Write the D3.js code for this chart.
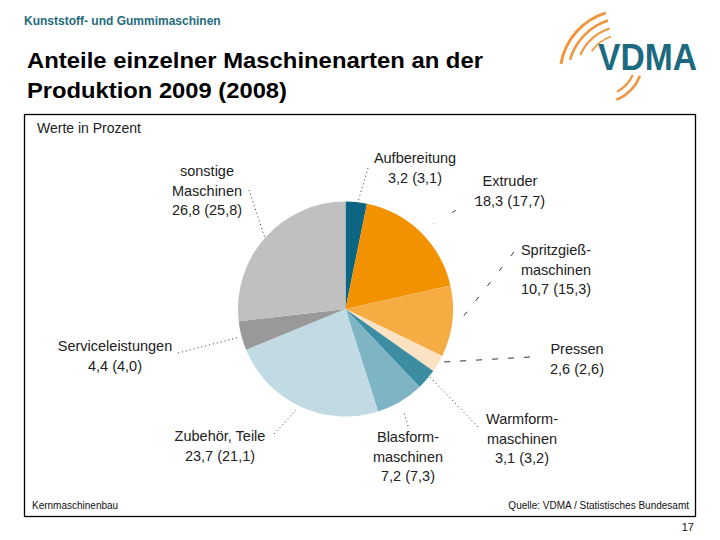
<!DOCTYPE html>
<html><head><meta charset="utf-8">
<script src="https://cdn.jsdelivr.net/npm/d3@7"></script>
<style>body{margin:0;background:#fff}svg{display:block}text{font-family:"Liberation Sans",Arial,sans-serif}</style>
</head><body><svg id="c" width="720" height="540"></svg>
<script>
const categories = ["Aufbereitung","Extruder","Spritzgieß-maschinen","Pressen","Warmform-maschinen","Blasform-maschinen","Zubehör, Teile","Serviceleistungen","sonstige Maschinen"];
const values2009 = [3.2,18.3,10.7,2.6,3.1,7.2,23.7,4.4,26.8];
const values2008 = [3.1,17.7,15.3,2.6,3.2,7.3,21.1,4.0,25.8];
const labelLines = [["Aufbereitung"],["Extruder"],["Spritzgieß-","maschinen"],["Pressen"],["Warmform-","maschinen"],["Blasform-","maschinen"],["Zubehör, Teile"],["Serviceleistungen"],["sonstige","Maschinen"]];
const colors = ["#0c6582","#f29200","#f5ac42","#fae2c2","#3c8da2","#7eb4c4","#c1dae3","#999999","#c0c0c0"];

// layout (positions only)
const labelPos = [[415,163],[510,186],[556,255],[577,354],[522,424],[408,442],[220,441],[115,351],[207,176]];
const leaders = [
 [[368,168],[358,202],"1,3"],
 [[478,197],[433,224],"4,22"],
 [[514,252],[459,322],"5,14"],
 [[530,357],[444,362],"6,10"],
 [[478,427],[430,377],"1,3"],
 [[408,426],[404,412],"1,3"],
 [[274,434],[296,410],"1,3"],
 [[178,353],[240,337],"1,3"],
 [[249,190],[265,238],"1,3"]
];

const svg = d3.select("#c");
const fmt = v => d3.format(".1f")(v).replace(".", ",");

// header
svg.append("text").attr("x",24).attr("y",25).attr("fill","#1f6b7c").attr("font-size",12).attr("font-weight","bold").text("Kunststoff- und Gummimaschinen");
svg.append("text").attr("x",27).attr("y",68).attr("font-size",22).attr("font-weight","bold").attr("fill","#000")
  .attr("textLength",456).attr("lengthAdjust","spacingAndGlyphs").text("Anteile einzelner Maschinenarten an der");
svg.append("text").attr("x",27).attr("y",98).attr("font-size",22).attr("font-weight","bold").attr("fill","#000")
  .attr("textLength",260).attr("lengthAdjust","spacingAndGlyphs").text("Produktion 2009 (2008)");

// logo
const logo = svg.append("g");
const arcG = d3.arc();
[[65,-1.40,-0.30,3],[57,-1.30,-0.30,2.6],[49,-1.15,-0.32,2.2],[41,-0.95,-0.35,1.8]].forEach(a=>{
  logo.append("path").attr("transform","translate(625,75)")
    .attr("d",arcG({innerRadius:a[0]-a[3]/2,outerRadius:a[0]+a[3]/2,startAngle:a[1],endAngle:a[2]}))
    .attr("fill","#ee8a2a").attr("opacity",0.9);
});
[[43,1.95,2.75,2.6],[36,2.0,2.65,2.2]].forEach(a=>{
  logo.append("path").attr("transform","translate(600,60)")
    .attr("d",arcG({innerRadius:a[0]-a[3]/2,outerRadius:a[0]+a[3]/2,startAngle:a[1],endAngle:a[2]}))
    .attr("fill","#ee8a2a").attr("opacity",0.9);
});
svg.append("text").attr("x",598).attr("y",70).attr("font-size",36).attr("font-weight","bold").attr("fill","#1b6a80").attr("textLength",99).attr("lengthAdjust","spacingAndGlyphs").text("VDMA");

// frame
svg.append("rect").attr("x",24.5).attr("y",114.5).attr("width",671).attr("height",402).attr("fill","none").attr("stroke","#000").attr("stroke-width",1.3);
svg.append("text").attr("x",37).attr("y",133).attr("font-size",14).attr("fill","#222").text("Werte in Prozent");
svg.append("text").attr("x",32).attr("y",509).attr("font-size",10).attr("fill","#111").text("Kernmaschinenbau");
svg.append("text").attr("x",689).attr("y",509).attr("text-anchor","end").attr("font-size",10).attr("fill","#111").text("Quelle: VDMA / Statistisches Bundesamt");
svg.append("text").attr("x",694).attr("y",531).attr("text-anchor","end").attr("font-size",11).attr("fill","#111").text("17");

// pie
const data = categories.map((c,i)=>({c, v:values2009[i], p:values2008[i], i}));
const pie = d3.pie().sort(null).value(d=>d.v);
const arc = d3.arc().innerRadius(0).outerRadius(107.5);
const g = svg.append("g").attr("transform","translate(345.5,309)");
g.selectAll("path").data(pie(data)).join("path").attr("d",arc).attr("fill",d=>colors[d.data.i]);

// leaders
leaders.forEach(l=>{
  svg.append("line").attr("x1",l[0][0]).attr("y1",l[0][1]).attr("x2",l[1][0]).attr("y2",l[1][1])
    .attr("stroke","#333").attr("stroke-width",1).attr("stroke-dasharray",l[2]);
});

// labels
data.forEach((d,i)=>{
  const t = svg.append("text").attr("text-anchor","middle").attr("font-size",14.5).attr("fill","#222");
  const lines = labelLines[i].concat([fmt(d.v)+" ("+fmt(d.p)+")"]);
  lines.forEach((s,k)=>t.append("tspan").attr("x",labelPos[i][0]).attr("y",labelPos[i][1]+k*19.5).text(s));
});
</script></body></html>
